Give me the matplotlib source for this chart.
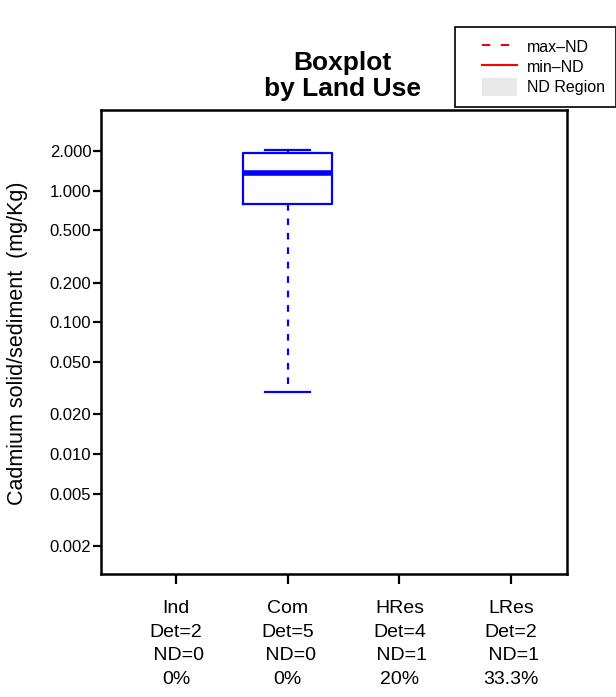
import matplotlib
matplotlib.use("Agg")
import matplotlib.pyplot as plt
from matplotlib.lines import Line2D
from matplotlib.patches import Patch
from matplotlib.legend_handler import HandlerLine2D, HandlerPatch
from matplotlib.ticker import FixedLocator, FixedFormatter, NullLocator

plt.rcParams['font.family'] = ['Liberation Sans', 'DejaVu Sans']

# ---- data ----
categories = ["Ind", "Com", "HRes", "LRes"]
n_detect = [2, 5, 4, 2]
n_nondetect = [0, 0, 1, 1]
pct_nd = ["0%", "0%", "20%", "33.3%"]

# only Com has a drawn box
box_category = "Com"
box_whislo = 0.0297
box_q1 = 0.795
box_med = 1.35
box_q3 = 1.92
box_whishi = 2.02

y_ticks = [0.002, 0.005, 0.010, 0.020, 0.050, 0.100, 0.200, 0.500, 1.000, 2.000]
y_tick_labels = ["%.3f" % v for v in y_ticks]

title_text = "Boxplot\nby Land Use"
ylabel_text = "Cadmium solid/sediment  (mg/Kg)"
legend_labels = ["max\u2013ND", "min\u2013ND", "ND Region"]

# ---- figure ----
fig = plt.figure(figsize=(6.16, 6.97), dpi=100)
ax = fig.add_axes([101/616, 1-574/697, (567-101)/616, (574-110)/697])

positions = list(range(1, len(categories) + 1))
pos = positions[categories.index(box_category)]
stats = [dict(med=box_med, q1=box_q1, q3=box_q3, whislo=box_whislo,
              whishi=box_whishi, fliers=[], label=box_category)]
ax.bxp(stats, positions=[pos], widths=0.8, showfliers=False,
       boxprops=dict(color='blue', linewidth=1.6),
       medianprops=dict(color='blue', linewidth=4.0, solid_capstyle='butt'),
       whiskerprops=dict(color='blue', linewidth=1.6, linestyle=(0, (3, 3.5))),
       capprops=dict(color='blue', linewidth=1.6),
       capwidths=0.4, manage_ticks=False)

ax.set_yscale('log')
ax.set_ylim(0.00123, 4.09)
ax.set_xlim(0.328, 4.50)

ax.yaxis.set_major_locator(FixedLocator(y_ticks))
ax.yaxis.set_major_formatter(FixedFormatter(y_tick_labels))
ax.yaxis.set_minor_locator(NullLocator())

xlabels = ["%s\nDet=%d\n ND=%d\n%s" % (c, d, n, p)
           for c, d, n, p in zip(categories, n_detect, n_nondetect, pct_nd)]
ax.set_xticks(positions)
ax.set_xticklabels(xlabels, fontsize=14, linespacing=1.5)

ax.tick_params(axis='y', labelsize=12, length=5.5, width=1.6, pad=1.5)
ax.tick_params(axis='x', length=7, width=1.6, pad=12)
for s in ax.spines.values():
    s.set_linewidth(1.8)

fig.text(342/616, 1-76/697, title_text, ha='center', va='center',
         fontsize=19, fontweight='bold', linespacing=1.1)
fig.text(18/616, 1-343/697, ylabel_text, rotation=90, ha='center',
         va='center', fontsize=15.5)

handles = [Line2D([0], [0], color='red', linestyle=(0, (4, 5)), linewidth=1.5),
           Line2D([0], [0], color='red', linestyle='-', linewidth=1.5),
           Patch(facecolor='#e8e8e8', edgecolor='none')]
leg = fig.legend(handles, legend_labels, loc='upper left',
                 bbox_to_anchor=(455/616, 1-27/697), fontsize=11.5,
                 frameon=True, fancybox=False, edgecolor='black',
                 framealpha=1, borderpad=0.7, handlelength=3.2,
                 handleheight=1.35, borderaxespad=0,
                 handletextpad=0.6, labelspacing=0.12,
                 handler_map={Line2D: HandlerLine2D(xpad=1.0),
                              Patch: HandlerPatch(xpad=1.0)})
leg.get_frame().set_linewidth(1.2)

fig.savefig("out.png", dpi=100)
